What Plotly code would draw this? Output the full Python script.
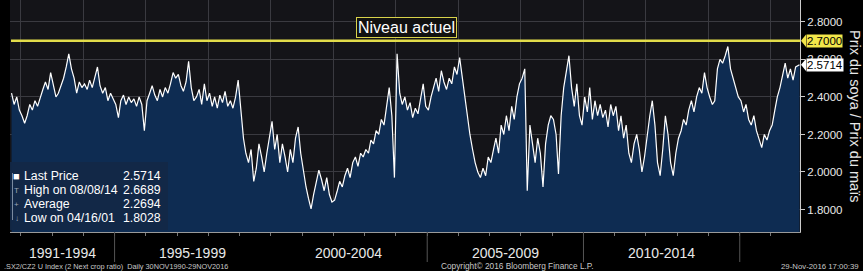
import pandas as pd
import plotly.graph_objects as go

# ---- data (monthly readings of the soy/corn price ratio) ----
v1991 = [2.42, 2.36, 2.40, 2.33]
v1992 = [2.30, 2.26, 2.30, 2.36, 2.33, 2.38, 2.35, 2.40, 2.44, 2.48, 2.44, 2.53]
v1993 = [2.46, 2.40, 2.42, 2.46, 2.50, 2.56, 2.63, 2.55, 2.50, 2.42, 2.48, 2.45]
v1994 = [2.47, 2.44, 2.49, 2.45, 2.50, 2.56, 2.46, 2.42, 2.45, 2.38, 2.42, 2.39]
v1995 = [2.36, 2.29, 2.38, 2.41, 2.36, 2.40, 2.37, 2.39, 2.35, 2.40, 2.36, 2.22]
v1996 = [2.38, 2.42, 2.46, 2.41, 2.38, 2.44, 2.40, 2.45, 2.42, 2.47, 2.53, 2.50]
v1997 = [2.52, 2.46, 2.43, 2.48, 2.59, 2.45, 2.38, 2.40, 2.44, 2.36, 2.47, 2.38]
v1998 = [2.42, 2.35, 2.40, 2.34, 2.41, 2.37, 2.43, 2.35, 2.38, 2.34, 2.40, 2.49]
v1999 = [2.31, 2.18, 2.10, 2.05, 2.12, 1.95, 2.02, 2.15, 2.08, 2.00, 2.10, 2.18]
v2000 = [2.27, 2.12, 2.20, 2.05, 2.15, 2.08, 2.00, 2.12, 2.05, 2.18, 2.24, 2.10]
v2001 = [2.00, 1.92, 1.86, 1.8028, 1.88, 1.95, 2.01, 1.96, 1.90, 1.97, 1.88, 1.84]
v2002 = [1.85, 1.90, 1.95, 1.92, 1.98, 2.02, 1.97, 2.05, 2.08, 2.03, 2.10, 2.08]
v2003 = [2.12, 2.10, 2.17, 2.15, 2.22, 2.20, 2.28, 2.25, 2.36, 2.45, 2.30, 1.97]
v2004 = [2.63, 2.42, 2.36, 2.40, 2.33, 2.37, 2.29, 2.34, 2.31, 2.38, 2.47, 2.35]
v2005 = [2.33, 2.40, 2.45, 2.50, 2.43, 2.54, 2.48, 2.44, 2.50, 2.47, 2.56, 2.52]
v2006 = [2.61, 2.50, 2.40, 2.29, 2.20, 2.12, 2.05, 2.00, 1.97, 2.02, 1.98, 2.08]
v2007 = [2.05, 2.12, 2.18, 2.10, 2.25, 2.20, 2.30, 2.22, 2.35, 2.28, 2.40, 2.47]
v2008 = [2.50, 2.55, 1.90, 2.25, 2.15, 2.05, 2.18, 2.10, 1.92, 2.15, 2.25, 2.30]
v2009 = [2.28, 2.20, 1.99, 2.30, 2.45, 2.55, 2.62, 2.45, 2.35, 2.47, 2.30, 2.25]
v2010 = [2.40, 2.32, 2.45, 2.28, 2.38, 2.30, 2.36, 2.29, 2.33, 2.24, 2.36, 2.30]
v2011 = [2.35, 2.22, 2.30, 2.18, 2.25, 2.10, 2.05, 2.15, 2.20, 2.12, 2.00, 2.08]
v2012 = [2.20, 2.30, 2.38, 2.25, 2.05, 1.98, 2.12, 2.30, 2.20, 2.05, 1.98, 2.10]
v2013 = [2.18, 2.22, 2.28, 2.25, 2.33, 2.38, 2.32, 2.40, 2.45, 2.42, 2.53, 2.45]
v2014 = [2.40, 2.36, 2.38, 2.55, 2.60, 2.58, 2.62, 2.6689, 2.55, 2.50, 2.45, 2.40]
v2015 = [2.38, 2.32, 2.36, 2.28, 2.25, 2.30, 2.22, 2.18, 2.13, 2.20, 2.17, 2.22]
v2016 = [2.25, 2.33, 2.40, 2.45, 2.52, 2.58, 2.50, 2.55, 2.49, 2.56, 2.5714]

values = (v1991 + v1992 + v1993 + v1994 + v1995 + v1996 + v1997 + v1998 + v1999 +
          v2000 + v2001 + v2002 + v2003 + v2004 + v2005 + v2006 + v2007 + v2008 +
          v2009 + v2010 + v2011 + v2012 + v2013 + v2014 + v2015 + v2016)
dates = list(pd.date_range("1991-09-15", periods=len(values) - 1,
                           freq=pd.DateOffset(months=1))) + [pd.Timestamp("2016-11-29")]

period_labels = ["1991-1994", "1995-1999", "2000-2004", "2005-2009", "2010-2014"]
period_centers = ["1993-05-01", "1997-07-01", "2002-07-01", "2007-07-01", "2012-07-01"]
dividers = ["1995-01-01", "2005-01-01", "2010-01-01", "2015-01-01"]
y_ticks = [1.8, 2.0, 2.2, 2.4, 2.6, 2.8]
level = 2.70
last_price = 2.5714
legend_rows = [("Last Price", "2.5714"), ("High on 08/08/14", "2.6689"),
               ("Average", "2.2694"), ("Low on 04/16/01", "1.8028")]
legend_icons = ["■", "T", "+", "↓"]

FONT = "Liberation Sans, Arial, sans-serif"

fig = go.Figure()
fig.add_trace(go.Scatter(
    x=dates, y=values, mode="lines",
    line=dict(color="#ffffff", width=1.2),
    fill="tozeroy", fillcolor="#0e2c52",
    hoverinfo="skip", showlegend=False))

W, H = 863, 271
L, R, T, B = 10, 63, 0, 39
pw, ph = W - L - R, H - T - B

def px_x(px):
    return (px - L) / pw

def px_y(py):
    return (ph - (py - T)) / ph

shapes = []
# level line
shapes.append(dict(type="line", xref="paper", yref="y", x0=px_x(11), x1=1,
                   y0=level, y1=level, line=dict(color="#e2dc4a", width=2.5)))
# period dividers below axis
for d in dividers:
    shapes.append(dict(type="line", xref="x", yref="paper", x0=d, x1=d,
                       y0=0, y1=px_y(262), line=dict(color="#555555", width=1)))
# legend box
shapes.append(dict(type="rect", xref="paper", yref="paper",
                   x0=0, x1=px_x(168), y0=px_y(230), y1=px_y(162),
                   fillcolor="rgba(18,40,70,0.92)", line=dict(width=0), layer="above"))
# little connector line on the legend's left
shapes.append(dict(type="line", xref="paper", yref="paper",
                   x0=px_x(12.5), x1=px_x(12.5), y0=px_y(220), y1=px_y(173),
                   line=dict(color="#7a8aa0", width=1), layer="above"))
# pointer triangles for right-side labels
for val, col in [(level, "#f2e64a"), (last_price, "#ffffff")]:
    shapes.append(dict(type="path", xref="paper", yref="y",
                       path=f"M {px_x(801)} {val} L {px_x(806)} {val + 0.033} "
                            f"L {px_x(806)} {val - 0.033} Z",
                       fillcolor=col, line=dict(width=0)))

annotations = []
for lab, c in zip(period_labels, period_centers):
    annotations.append(dict(x=c, xref="x", y=px_y(253), yref="paper", text=lab,
                            showarrow=False, font=dict(size=14, color="#e8e8e8", family=FONT),
                            xanchor="center", yanchor="middle"))
# footer texts
annotations.append(dict(x=px_x(2), xref="paper", y=px_y(266), yref="paper",
                        text=".SX2/CZ2 U Index (2 Next crop ratio)  Daily 30NOV1990-29NOV2016",
                        showarrow=False, xanchor="left", yanchor="middle",
                        font=dict(size=7.3, color="#c8c8c8", family=FONT)))
annotations.append(dict(x=px_x(439), xref="paper", y=px_y(266), yref="paper",
                        text="Copyright© 2016 Bloomberg Finance L.P.",
                        showarrow=False, xanchor="left", yanchor="middle",
                        font=dict(size=8.3, color="#c8c8c8", family=FONT)))
annotations.append(dict(x=px_x(861), xref="paper", y=px_y(266), yref="paper",
                        text="29-Nov-2016 17:00:39",
                        showarrow=False, xanchor="right", yanchor="middle",
                        font=dict(size=7.8, color="#c8c8c8", family=FONT)))
# "Niveau actuel" box
annotations.append(dict(x=px_x(406.5), xref="paper", y=px_y(27.5), yref="paper",
                        text="Niveau actuel", showarrow=False,
                        xanchor="center", yanchor="middle",
                        font=dict(size=16, color="#ffffff", family=FONT),
                        bgcolor="#111111", bordercolor="#d8d24a", borderwidth=1, borderpad=1))
# right-side value labels
annotations.append(dict(x=px_x(806), xref="paper", y=level, yref="y", text="2.7000",
                        showarrow=False, xanchor="left", yanchor="middle",
                        font=dict(size=11.5, color="#000000", family=FONT),
                        bgcolor="#f2e64a", borderpad=0))
annotations.append(dict(x=px_x(806), xref="paper", y=last_price, yref="y", text="2.5714",
                        showarrow=False, xanchor="left", yanchor="middle",
                        font=dict(size=11.5, color="#000000", family=FONT),
                        bgcolor="#ffffff", borderpad=0))
# axis title (reads top to bottom)
annotations.append(dict(x=px_x(855), xref="paper", y=px_y(116), yref="paper",
                        text="Prix du soya / Prix du maïs", textangle=90,
                        showarrow=False, xanchor="center", yanchor="middle",
                        font=dict(size=14.5, color="#e8e8e8", family=FONT)))
# legend rows
row_y = [176, 190, 204, 218]
for (lab, val), icon, yy in zip(legend_rows, legend_icons, row_y):
    annotations.append(dict(x=px_x(16.5), xref="paper", y=px_y(yy), yref="paper",
                            text=icon, showarrow=False, xanchor="center", yanchor="middle",
                            font=dict(size=11 if icon == "■" else 8,
                                      color="#ffffff" if icon == "■" else "#9aa6b8",
                                      family=FONT)))
    annotations.append(dict(x=px_x(22), xref="paper", y=px_y(yy), yref="paper",
                            text=lab, showarrow=False, xanchor="left", yanchor="middle",
                            font=dict(size=12.3, color="#ffffff", family=FONT)))
    annotations.append(dict(x=px_x(163), xref="paper", y=px_y(yy), yref="paper",
                            text=val, showarrow=False, xanchor="right", yanchor="middle",
                            font=dict(size=12.3, color="#ffffff", family=FONT)))

fig.update_layout(
    width=W, height=H,
    margin=dict(l=L, r=R, t=T, b=B, pad=0),
    paper_bgcolor="#000000", plot_bgcolor="#141418",
    shapes=shapes, annotations=annotations,
    showlegend=False,
    xaxis=dict(type="date", range=["1991-08-28", "2016-12-05"],
               tick0="1992-01-01", dtick="M24",
               showgrid=True, gridcolor="#3a3a40", gridwidth=1,
               showticklabels=False, ticks="outside", ticklen=3, tickcolor="#777777",
               minor=dict(dtick="M12", tick0="1992-01-01", ticks="outside", ticklen=3,
                          tickcolor="#777777", showgrid=False),
               showline=True, linecolor="#9a9a9a", linewidth=1,
               zeroline=False, fixedrange=True),
    yaxis=dict(side="right", range=[1.68, 2.917],
               tickvals=y_ticks, ticktext=[f"{t:.4f}" for t in y_ticks],
               tickfont=dict(size=11.5, color="#e8e8e8", family=FONT),
               ticks="outside", ticklen=4, tickcolor="#cccccc",
               showgrid=True, gridcolor="#3a3a40", gridwidth=1,
               showline=True, linecolor="#cccccc", linewidth=1,
               zeroline=False, fixedrange=True),
)

fig.write_html("out.html")
